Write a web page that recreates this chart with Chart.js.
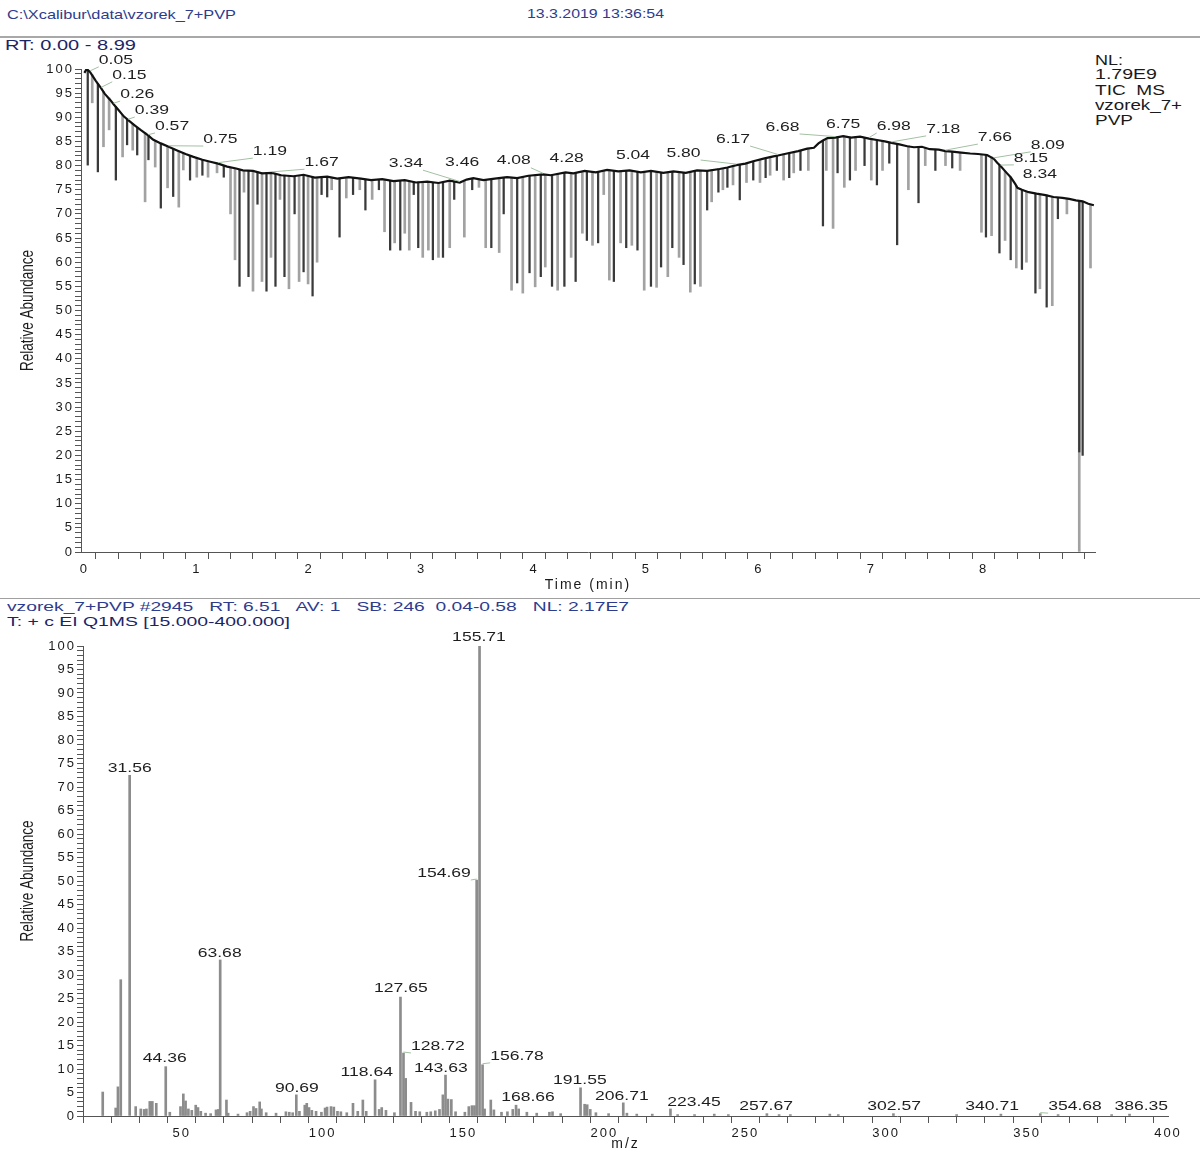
<!DOCTYPE html>
<html><head><meta charset="utf-8">
<script src="https://cdn.jsdelivr.net/npm/chart.js@4/dist/chart.umd.min.js"></script>
<style>
html,body{margin:0;padding:0;background:#fff;}
#page{position:relative;width:1200px;height:1153px;overflow:hidden;font-family:"Liberation Sans",Arial,sans-serif;background:#fff;}
.t{position:absolute;white-space:pre;transform-origin:0 50%;line-height:1;}
.hr{position:absolute;left:0;width:1200px;height:0;}
canvas{position:absolute;left:0;}
</style></head>
<body><div id="page">
<div class="t" data-w="229" style="left:7px;top:7.6px;font-size:13px;color:#2d3c8e">C:\Xcalibur\data\vzorek_7+PVP</div>
<div class="t" data-w="137" style="left:527px;top:8px;font-size:12px;color:#2d3c8e">13.3.2019 13:36:54</div>
<div class="hr" style="top:36px;border-top:2px solid #a8a8a8"></div>
<div class="t" data-w="131" style="left:5px;top:38px;font-size:14px;color:#1c2466">RT: 0.00 - 8.99</div>
<div class="t" data-w="28" style="left:1095px;top:53px;font-size:14px;color:#1a1a1a">NL:</div>
<div class="t" data-w="62" style="left:1095px;top:67px;font-size:14px;color:#1a1a1a">1.79E9</div>
<div class="t" data-w="70" style="left:1095px;top:83px;font-size:14px;color:#1a1a1a">TIC  MS</div>
<div class="t" data-w="87" style="left:1095px;top:98px;font-size:14px;color:#1a1a1a">vzorek_7+</div>
<div class="t" data-w="38" style="left:1095px;top:113px;font-size:14px;color:#1a1a1a">PVP</div>
<div class="hr" style="top:598px;border-top:1px solid #a0a0a0"></div>
<div class="t" data-w="622" style="left:7px;top:599.6px;font-size:13px;color:#2d3c8e">vzorek_7+PVP #2945   RT: 6.51   AV: 1   SB: 246  0.04-0.58   NL: 2.17E7</div>
<div class="t" data-w="283" style="left:7px;top:614.6px;font-size:13px;color:#1c2466">T: + c EI Q1MS [15.000-400.000]</div>
<canvas id="tic" width="1200" height="550" style="top:48px;width:1200px;height:550px"></canvas>
<canvas id="ms" width="1200" height="523" style="top:630px;width:1200px;height:523px"></canvas>
</div>
<script>
// ---------- TIC chromatogram (top) ----------
const envTimes = [0.00,0.02,0.05,0.08,0.10,0.15,0.18,0.23,0.26,0.30,0.35,0.39,0.45,0.50,0.57,0.61,0.68,0.75,0.82,0.90,0.97,1.05,1.12,1.19,1.27,1.35,1.41,1.50,1.58,1.67,1.75,1.86,1.95,2.05,2.16,2.25,2.35,2.46,2.55,2.65,2.75,2.85,2.95,3.05,3.15,3.25,3.34,3.40,3.46,3.55,3.65,3.76,3.85,3.95,4.08,4.15,4.28,4.35,4.45,4.55,4.65,4.75,4.85,4.95,5.04,5.15,5.24,5.35,5.45,5.54,5.65,5.72,5.80,5.88,5.95,6.05,6.13,6.17,6.25,6.35,6.43,6.49,6.53,6.57,6.61,6.68,6.75,6.82,6.90,6.98,7.05,7.12,7.18,7.25,7.32,7.38,7.45,7.52,7.60,7.66,7.72,7.80,7.88,7.95,8.03,8.09,8.12,8.15,8.20,8.24,8.28,8.30,8.34,8.40,8.47,8.55,8.62,8.70,8.76,8.82,8.88,8.93,8.98];
const envValues = [99.2,100.0,99.4,98.3,97.6,96.0,94.9,93.6,92.7,91.6,90.2,89.4,88.3,87.4,86.2,85.4,84.6,83.9,83.2,82.4,81.8,81.2,80.8,80.4,79.8,79.4,79.0,78.9,78.4,78.5,78.0,77.8,78.1,77.5,77.7,77.3,77.6,77.3,77.0,77.2,76.8,77.0,76.5,76.7,76.4,76.9,76.5,77.1,77.4,77.0,77.3,77.6,77.4,77.9,78.2,78.0,78.6,78.4,78.9,78.6,79.1,78.8,79.0,78.6,78.9,78.5,78.8,78.5,79.0,78.9,79.3,79.6,80.1,80.4,80.9,81.5,81.9,82.1,82.5,83.0,83.5,83.7,84.6,85.2,85.7,85.8,86.1,85.8,86.0,85.6,85.3,85.0,84.7,84.4,84.0,83.8,83.9,83.4,83.3,83.0,82.9,82.7,82.5,82.4,82.2,81.4,80.6,79.9,78.6,77.6,76.2,75.4,75.0,74.5,74.2,73.9,73.5,73.3,73.1,72.8,72.6,72.1,71.8];

const spikeTimes = [0.03,0.07,0.12,0.17,0.22,0.28,0.34,0.38,0.43,0.47,0.54,0.57,0.63,0.68,0.74,0.79,0.84,0.88,0.94,1.00,1.05,1.10,1.18,1.24,1.30,1.34,1.38,1.42,1.46,1.50,1.54,1.58,1.62,1.66,1.70,1.74,1.78,1.82,1.87,1.91,1.95,1.99,2.03,2.07,2.11,2.16,2.20,2.27,2.33,2.39,2.45,2.50,2.56,2.62,2.67,2.72,2.76,2.81,2.85,2.89,2.93,2.97,3.01,3.06,3.10,3.15,3.19,3.25,3.29,3.38,3.45,3.51,3.57,3.62,3.69,3.73,3.80,3.85,3.90,3.96,4.01,4.06,4.10,4.16,4.21,4.27,4.33,4.37,4.43,4.47,4.52,4.57,4.62,4.67,4.71,4.77,4.82,4.87,4.92,4.98,5.04,5.09,5.13,5.19,5.23,5.29,5.33,5.39,5.43,5.48,5.54,5.58,5.64,5.68,5.72,5.77,5.83,5.89,5.95,6.01,6.06,6.10,6.16,6.22,6.27,6.31,6.37,6.44,6.57,6.60,6.66,6.70,6.76,6.81,6.86,6.94,7.00,7.05,7.10,7.16,7.23,7.33,7.42,7.48,7.57,7.66,7.72,7.79,7.98,8.02,8.07,8.14,8.19,8.24,8.29,8.34,8.38,8.46,8.50,8.56,8.61,8.66,8.74,8.85,8.85,8.88,8.95];
const spikeLows = [80.1,93.0,78.7,83.9,87.4,77.0,81.8,84.3,83.2,82.2,72.5,81.2,79.7,71.2,75.4,73.6,71.4,79.1,77.0,77.6,78.0,77.6,78.5,77.6,70.0,60.5,55.0,74.5,57.0,54.0,72.0,56.0,54.0,61.0,55.0,73.0,57.0,54.5,70.0,56.0,58.0,55.5,53.0,60.0,74.0,73.5,75.0,65.2,73.3,74.0,75.0,70.8,73.0,75.0,66.3,62.5,64.0,62.5,66.0,62.5,74.0,63.0,61.0,62.5,60.5,61.0,61.0,63.0,73.0,65.2,75.0,75.5,63.0,63.0,62.0,70.0,54.2,55.7,53.6,57.8,54.9,57.0,59.0,55.0,54.2,55.0,61.0,56.0,66.0,64.5,63.5,64.0,74.0,56.3,56.0,64.0,63.0,63.5,62.5,54.2,55.0,54.8,59.0,57.0,63.0,61.0,59.5,53.8,55.5,55.0,70.8,72.5,74.5,75.0,75.5,76.0,72.9,76.5,77.0,76.5,77.5,78.0,79.0,77.0,77.5,78.5,79.0,79.0,67.5,79.0,67.0,78.5,75.5,77.0,79.0,80.0,77.0,76.0,79.0,80.5,63.6,75.0,72.3,80.0,79.0,80.0,79.5,79.0,66.2,65.2,65.5,61.9,64.5,60.5,58.8,58.5,60.0,53.6,54.5,50.7,51.0,69.0,70.0,0.0,20.7,20.0,58.8];
const spikeTops = [99.8,98.8,97.0,95.3,94.0,92.2,90.5,89.6,88.7,87.9,86.8,86.2,85.2,84.6,84.0,83.5,83.0,82.6,82.1,81.6,81.2,80.9,80.4,80.0,79.6,79.4,79.2,79.0,79.0,78.9,78.7,78.5,78.5,78.5,78.3,78.1,78.0,77.9,77.8,77.9,78.0,77.9,77.6,77.5,77.6,77.7,77.5,77.4,77.5,77.4,77.3,77.1,77.0,77.1,77.1,76.9,76.8,76.9,77.0,76.8,76.6,76.6,76.6,76.7,76.5,76.4,76.6,76.9,76.7,76.9,77.3,77.2,77.1,77.2,77.4,77.5,77.5,77.4,77.7,77.9,78.1,78.2,78.1,78.1,78.3,78.6,78.4,78.5,78.8,78.8,78.6,78.7,78.9,79.1,79.0,78.8,78.9,79.0,78.7,78.7,78.9,78.7,78.5,78.6,78.8,78.6,78.5,78.7,78.9,79.0,78.9,79.1,79.3,79.4,79.6,79.9,80.2,80.5,80.9,81.2,81.5,81.8,82.1,82.4,82.6,82.8,83.1,83.5,85.2,85.6,85.8,85.9,86.1,85.9,86.0,85.8,85.6,85.3,85.1,84.8,84.5,84.1,83.9,83.7,83.4,83.0,82.9,82.7,82.3,82.2,81.8,80.1,78.8,77.6,75.8,75.0,74.7,74.2,74.0,73.9,73.6,73.4,73.2,72.7,72.7,72.6,72.0];
const spikeDark = [1,0,1,0,0,1,0,1,0,1,0,1,0,1,0,1,0,0,1,0,1,0,0,1,0,0,1,0,1,0,1,0,1,0,1,0,1,0,1,0,1,0,1,0,1,1,0,1,0,1,0,1,0,1,0,1,0,1,0,0,1,1,0,0,1,0,1,0,1,0,1,0,0,1,0,1,0,1,0,1,0,1,0,1,0,1,0,1,0,1,0,1,0,0,1,0,1,0,1,0,1,0,1,0,1,0,1,0,1,0,1,0,1,0,1,0,1,0,1,0,1,0,1,0,1,0,1,0,1,0,0,1,0,1,0,1,0,1,0,1,1,0,1,0,1,0,1,0,0,1,0,1,0,1,0,1,0,1,0,1,0,1,0,0,1,1,0];

// labelled TIC peaks (retention times) and where their labels sit (layout, data units)
const ticPeakTimes = [0.05,0.15,0.26,0.39,0.57,0.75,1.19,1.67,3.34,3.46,4.08,4.28,5.04,5.80,6.17,6.68,6.75,6.98,7.18,7.66,8.09,8.15,8.34];
const ticLabelT = [0.28,0.40,0.47,0.60,0.78,1.21,1.65,2.11,2.86,3.36,3.82,4.29,4.88,5.33,5.77,6.21,6.75,7.20,7.64,8.10,8.57,8.42,8.50];
const ticLabelV = [101.9,98.8,94.8,91.5,88.2,85.5,83.0,80.7,80.5,80.7,81.0,81.6,82.2,82.6,85.5,88.0,88.6,88.2,87.6,85.9,84.3,81.6,78.1];

// ---------- Mass spectrum (bottom) ----------
const msMz = [22.0,26.6,27.4,28.4,31.56,33.7,35.5,36.7,37.5,38.7,39.6,41.0,44.36,45.8,49.6,50.6,51.4,52.4,53.6,55.0,55.8,56.8,58.5,60.3,62.2,63.0,63.68,65.9,66.5,70.0,73.2,74.3,75.5,76.4,77.7,78.3,80.0,83.5,87.0,88.2,89.4,90.69,91.8,93.7,94.4,95.2,96.2,97.7,99.6,100.9,101.6,103.0,104.0,105.3,106.5,108.6,110.8,112.5,114.3,115.5,118.64,120.1,121.0,122.5,125.5,127.65,128.72,129.5,131.4,133.0,134.5,137.0,138.4,140.0,141.5,142.7,143.63,144.5,145.7,147.2,150.5,151.9,153.0,153.9,154.69,155.71,156.78,157.5,159.7,160.8,163.5,165.6,167.5,168.66,169.6,172.5,176.0,180.5,181.6,184.5,191.55,193.0,193.9,195.0,197.0,201.5,206.71,208.0,211.5,217.0,223.45,226.0,232.0,239.0,244.0,257.67,262.0,266.0,280.0,283.0,302.57,325.0,340.71,354.68,361.0,380.0,386.35];
const msAb = [5.1,1.7,6.2,29.0,72.5,2.0,1.5,1.4,1.5,3.1,3.1,2.7,10.5,0.8,2.0,4.7,3.2,1.5,1.2,2.3,1.8,1.0,0.6,0.5,1.3,1.4,33.2,3.4,0.6,0.4,0.7,1.0,2.0,1.6,3.0,1.5,0.7,0.6,0.9,0.8,0.7,4.5,1.0,2.3,2.7,1.8,1.2,1.0,0.8,1.7,1.9,2.0,1.9,1.0,0.9,0.7,2.7,1.0,3.4,1.0,7.7,1.4,1.8,1.2,0.7,25.3,13.4,8.0,2.9,1.0,0.9,0.8,0.9,1.1,1.4,4.5,8.7,3.6,3.5,0.9,0.8,2.0,2.2,2.2,50.2,100.0,10.9,1.5,3.4,1.3,0.8,0.9,1.4,2.3,1.5,0.8,0.6,0.8,0.9,0.5,6.0,2.5,2.4,1.4,0.7,0.5,2.8,0.6,0.4,0.4,1.5,0.3,0.3,0.4,0.3,0.5,0.3,0.3,0.4,0.3,0.5,0.3,0.4,0.5,0.3,0.3,0.4];

const msPeakMz = [155.71,31.56,154.69,63.68,127.65,128.72,156.78,44.36,143.63,118.64,191.55,90.69,168.66,206.71,223.45,257.67,302.57,340.71,354.68,386.35];
const msLabelMz = [155.5,31.6,143.1,63.5,127.8,140.9,169.0,44.0,142.0,115.7,191.3,90.9,172.9,206.2,231.8,257.4,302.8,337.6,367.0,390.5];
const msLabelAb = [101.9,74.0,51.7,34.7,27.2,14.9,12.8,12.3,10.2,9.4,7.7,6.0,4.0,4.3,3.0,2.1,2.1,2.1,2.1,2.1];

// ---------- helpers ----------
const FONT = '"Liberation Sans", Arial, sans-serif';
const SX = 1.3;           // horizontal stretch of the original picture's lettering
const isInt = v => Math.abs(v - Math.round(v)) < 1e-6;

const spacingPlugin = {
  id: 'spacing',
  beforeDraw(c) { c.ctx.letterSpacing = '2px'; },
  afterDraw(c) { c.ctx.letterSpacing = '0px'; }
};

function annotPlugin(items, yTitle) {
  return {
    id: 'annot',
    afterDraw(chart) {
      const ctx = chart.ctx, xs = chart.scales.x, ys = chart.scales.y, ca = chart.chartArea;
      ctx.save();
      ctx.letterSpacing = '0px';
      // y-axis title
      ctx.font = '13.5px ' + FONT;
      ctx.fillStyle = '#1a1a1a';
      ctx.textAlign = 'center';
      ctx.textBaseline = 'middle';
      ctx.save();
      ctx.translate(28, (ca.top + ca.bottom) / 2);
      ctx.scale(SX, 1);
      ctx.rotate(-Math.PI / 2);
      ctx.fillText(yTitle, 0, 0);
      ctx.restore();
      // peak labels
      ctx.font = '13.5px ' + FONT;
      items.forEach(it => {
        const px = xs.getPixelForValue(it.ax), py = ys.getPixelForValue(it.ay);
        const lx = xs.getPixelForValue(it.lx), ly = ys.getPixelForValue(it.ly);
        const w = ctx.measureText(it.text).width * SX;
        const left = lx - w / 2, right = lx + w / 2, bottom = ly + 7;
        if (px < left - 1 || px > right + 1) {
          const ex = px < left ? left : right;
          ctx.strokeStyle = '#a3c0a3';
          ctx.lineWidth = 1;
          ctx.beginPath();
          ctx.moveTo(px, py - 1);
          ctx.lineTo(ex, bottom);
          ctx.stroke();
        }
        ctx.save();
        ctx.translate(lx, ly);
        ctx.scale(SX, 1);
        ctx.fillStyle = '#1e1e1e';
        ctx.fillText(it.text, 0, 0);
        ctx.restore();
      });
      ctx.restore();
    }
  };
}

function axisOpts(extra) {
  return Object.assign({
    grid: { drawOnChartArea: false, tickLength: 7, tickColor: '#555', tickWidth: 1 },
    border: { color: '#555', width: 1 },
  }, extra);
}

// ---------- top chart ----------
const envData = envTimes.map((t, i) => ({ x: t, y: envValues[i] }));
const spikeDarkData = [], spikeGrayData = [];
spikeTimes.forEach((t, i) => {
  (spikeDark[i] ? spikeDarkData : spikeGrayData).push({ x: t, y: [spikeLows[i], spikeTops[i]] });
});
const ticItems = ticPeakTimes.map((t, i) => ({
  text: t.toFixed(2), ax: t, ay: envValues[envTimes.indexOf(t)], lx: ticLabelT[i], ly: ticLabelV[i]
}));

new Chart(document.getElementById('tic'), {
  type: 'bar',
  data: {
    datasets: [
      { type: 'line', data: envData, borderColor: '#111', borderWidth: 2.2, pointRadius: 0, tension: 0, order: 0 },
      { type: 'bar', data: spikeDarkData, backgroundColor: '#3a3a3a', barThickness: 1.6, grouped: false, order: 1 },
      { type: 'bar', data: spikeGrayData, backgroundColor: '#a2a2a2', barThickness: 2, grouped: false, order: 2 }
    ]
  },
  options: {
    responsive: false, animation: false, devicePixelRatio: 1, events: [],
    layout: { padding: { left: 0, right: 105, top: 21, bottom: 0 } },
    plugins: { legend: { display: false }, tooltip: { enabled: false } },
    scales: {
      x: axisOpts({
        type: 'linear', min: -0.03, max: 8.99, offset: false,
        afterFit: s => { s.height = 46; },
        ticks: { stepSize: 0.2, includeBounds: false, autoSkip: false, maxRotation: 0, padding: 3,
          color: '#1a1a1a', font: { family: FONT, size: 13 },
          callback: v => isInt(v) ? String(Math.round(v)) : '' },
        title: { display: true, text: 'Time (min)', color: '#1a1a1a', font: { family: FONT, size: 14 }, padding: { top: 0, bottom: 4 } }
      }),
      y: axisOpts({
        min: 0, max: 100,
        afterFit: s => { s.width = 81; },
        grid: { drawOnChartArea: false, tickLength: 6, tickColor: '#555', tickWidth: 1 },
        ticks: { stepSize: 1, autoSkip: false, padding: 1, color: '#1a1a1a', font: { family: FONT, size: 13 },
          callback: v => (v % 5 === 0 ? String(v) : '') }
      })
    }
  },
  plugins: [spacingPlugin, annotPlugin(ticItems, 'Relative Abundance')]
});

// ---------- bottom chart ----------
const msData = msMz.map((m, i) => ({ x: m, y: msAb[i] }));
const msItems = msPeakMz.map((m, i) => ({
  text: m.toFixed(2), ax: m, ay: msAb[msMz.indexOf(m)], lx: msLabelMz[i], ly: msLabelAb[i]
}));

new Chart(document.getElementById('ms'), {
  type: 'bar',
  data: { datasets: [{ data: msData, backgroundColor: '#8c8c8c', barThickness: 2, grouped: false }] },
  options: {
    responsive: false, animation: false, devicePixelRatio: 1, events: [],
    layout: { padding: { left: 0, right: 32, top: 16, bottom: 0 } },
    plugins: { legend: { display: false }, tooltip: { enabled: false } },
    scales: {
      x: axisOpts({
        type: 'linear', min: 15, max: 400, offset: false,
        afterFit: s => { s.height = 37; },
        ticks: { stepSize: 10, includeBounds: false, autoSkip: false, maxRotation: 0, padding: 3,
          color: '#1a1a1a', font: { family: FONT, size: 13 },
          callback: v => (v % 50 === 0 ? String(v) : '') },
        title: { display: true, text: 'm/z', color: '#1a1a1a', font: { family: FONT, size: 14 }, padding: { top: 0, bottom: 0 } }
      }),
      y: axisOpts({
        min: 0, max: 100,
        afterFit: s => { s.width = 83; },
        grid: { drawOnChartArea: false, tickLength: 6, tickColor: '#555', tickWidth: 1 },
        ticks: { stepSize: 1, autoSkip: false, padding: 1, color: '#1a1a1a', font: { family: FONT, size: 13 },
          callback: v => (v % 5 === 0 ? String(v) : '') }
      })
    }
  },
  plugins: [spacingPlugin, annotPlugin(msItems, 'Relative Abundance')]
});

// stretch header texts to the widths they occupy in the picture
document.querySelectorAll('.t[data-w]').forEach(el => {
  const w = el.getBoundingClientRect().width;
  if (w > 0) el.style.transform = 'scaleX(' + (parseFloat(el.dataset.w) / w).toFixed(4) + ')';
});
</script>
</body></html>
